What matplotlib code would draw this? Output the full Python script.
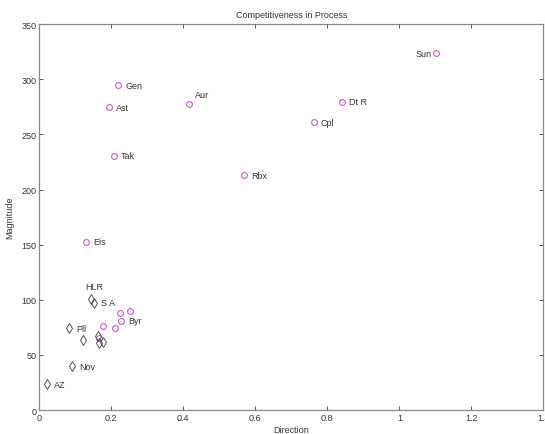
import matplotlib
matplotlib.use("Agg")
import matplotlib.pyplot as plt

# magenta circles
circ_x = [1.102, 0.840, 0.762, 0.569, 0.219, 0.417, 0.193, 0.208, 0.130,
          0.225, 0.253, 0.227, 0.176, 0.211, 0.167]
circ_y = [323.6, 279.7, 261.0, 213.0, 294.5, 277.5, 274.5, 230.6, 152.5,
          87.9, 89.7, 81.2, 76.6, 74.2, 65.0]
circ_lab = ["Sun", "Dt R", "Cpl", "Rbx", "Gen", "Aur", "Ast", "Tak", "Eis",
            "", "", "Byr", "", "", ""]

# black diamonds
dia_x = [0.144, 0.151, 0.083, 0.121, 0.163, 0.177, 0.167, 0.091, 0.021]
dia_y = [100.9, 97.3, 74.2, 63.6, 67.5, 62.0, 61.0, 39.7, 23.6]
dia_lab = ["HLR", "S A", "Pll", "", "", "", "", "Nov", "AZ"]

# label offsets (points)
offsets = {"Sun": (-3, 0, "right"), "Aur": (4, 7, "left"), "HLR": (-4, 9, "left")}

fig = plt.figure(figsize=(5.45, 4.35), dpi=100)
ax = fig.add_axes([0.072, 0.055, 0.925, 0.887])

ax.plot(circ_x, circ_y, "o", ms=4.2, mfc="none", mec="#c75cc7", mew=0.8)
ax.plot(dia_x, dia_y, "d", ms=4.6, mfc="none", mec="#505050", mew=0.7)

for xs, ys, labs in [(circ_x, circ_y, circ_lab), (dia_x, dia_y, dia_lab)]:
    for x, y, t in zip(xs, ys, labs):
        if not t:
            continue
        dx, dy, ha = offsets.get(t, (5, 0, "left"))
        ax.annotate(t, (x, y), xytext=(dx, dy), textcoords="offset points",
                    ha=ha, va="center", fontsize=6.5, color="#333333",
                    family="Liberation Sans")

ax.set_xlim(0, 1.4)
ax.set_ylim(0, 350)
ax.set_xticks([0, 0.2, 0.4, 0.6, 0.8, 1, 1.2, 1.4])
ax.set_xticklabels(["0", "0.2", "0.4", "0.6", "0.8", "1", "1.2", "1.4"])
ax.set_yticks(range(0, 351, 50))
ax.tick_params(direction="in", top=True, right=True, length=3, width=0.7,
               labelsize=6.5, colors="#555555", labelcolor="#333333", pad=2)
for lab in ax.get_xticklabels() + ax.get_yticklabels():
    lab.set_family("Liberation Sans")
for s in ax.spines.values():
    s.set_color("#888888")
    s.set_linewidth(0.9)

ax.set_xlabel("Direction", fontsize=6.5, family="Liberation Sans", color="#333333", labelpad=2)
ax.set_ylabel("Magnitude", fontsize=6.5, family="Liberation Sans", color="#333333", labelpad=5)
ax.set_title("Competitiveness in Process", fontsize=6.5, family="Liberation Sans",
             color="#333333", pad=5)

fig.savefig("out.png", dpi=100)
